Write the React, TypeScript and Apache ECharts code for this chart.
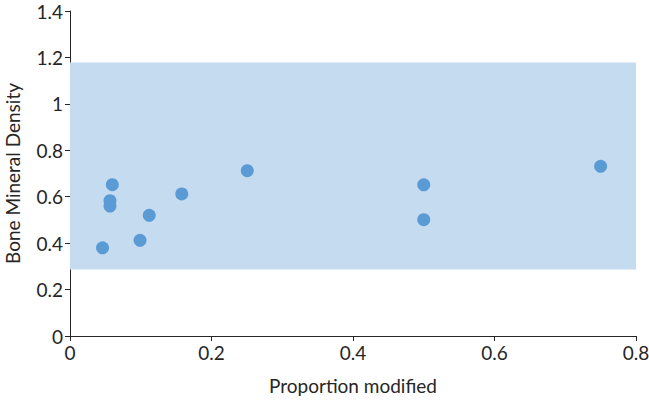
import React, { useEffect, useRef } from "react";
import * as echarts from "echarts";

const proportionModified = [0.046, 0.0598, 0.0565, 0.0565, 0.099, 0.112, 0.158, 0.2506, 0.5, 0.5, 0.75];
const boneMineralDensity = [0.38, 0.652, 0.583, 0.56, 0.412, 0.52, 0.612, 0.712, 0.651, 0.501, 0.731];
const bandRange = [0.287, 1.178];

export default function App() {
  const ref = useRef<HTMLDivElement>(null);
  useEffect(() => {
    const chart = echarts.init(ref.current!, null, { renderer: "svg" });
    const font = "Lato, 'Open Sans', sans-serif";
    chart.setOption({
      animation: false,
      backgroundColor: "#ffffff",
      grid: { left: 70, right: 13, top: 11, bottom: 64, outerBoundsMode: "none", containLabel: false },
      xAxis: {
        type: "value",
        min: 0,
        max: 0.8,
        interval: 0.2,
        name: "Proportion modified",
        nameLocation: "middle",
        nameGap: 40,
        nameTextStyle: { fontFamily: font, fontSize: 19, color: "#262626" },
        axisLine: { lineStyle: { color: "#262626", width: 1 } },
        axisTick: { show: true, inside: false, length: 5, lineStyle: { color: "#262626" } },
        axisLabel: { fontFamily: font, fontSize: 19, color: "#262626", margin: 7 },
        splitLine: { show: false },
      },
      yAxis: {
        type: "value",
        min: 0,
        max: 1.4,
        interval: 0.2,
        name: "Bone Mineral Density",
        nameLocation: "middle",
        nameGap: 48,
        nameRotate: 90,
        nameTextStyle: { fontFamily: font, fontSize: 19, color: "#262626" },
        axisLine: { show: true, lineStyle: { color: "#262626", width: 1 } },
        axisTick: { show: true, inside: false, length: 5, lineStyle: { color: "#262626" } },
        axisLabel: { fontFamily: font, fontSize: 19, color: "#262626", margin: 7 },
        splitLine: { show: false },
      },
      series: [
        {
          type: "scatter",
          symbolSize: 13,
          itemStyle: { color: "#5B9BD5", opacity: 1 },
          data: proportionModified.map((x, i) => [x, boneMineralDensity[i]]),
          markArea: {
            silent: true,
            itemStyle: { color: "#C5DCF0", opacity: 1 },
            data: [[{ yAxis: bandRange[0] }, { yAxis: bandRange[1] }]],
          },
          z: 3,
        },
      ],
    });
    return () => chart.dispose();
  }, []);
  return <div ref={ref} style={{ position: "fixed", left: 0, top: 0, width: 649, height: 400 }} />;
}
